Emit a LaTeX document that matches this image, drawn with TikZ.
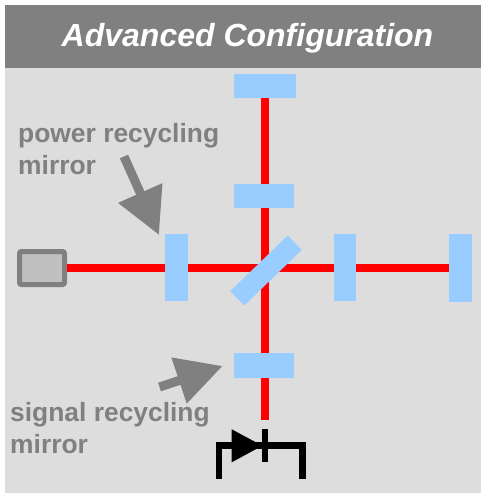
\documentclass[tikz,border=0pt]{standalone}
\usepackage{fontspec}
\setmainfont{Liberation Sans}
\usepackage{xcolor}
\usetikzlibrary{arrows.meta,positioning}
\definecolor{panelgray}{HTML}{DDDDDD}
\definecolor{headgray}{HTML}{808080}
\definecolor{mirrorblue}{HTML}{99CCFF}
\definecolor{lasergray}{HTML}{C0C0C0}
\tikzset{
    mirror/.style={fill=mirrorblue,inner sep=0pt,minimum width=#1},
    beam/.style={red,line width=8.5pt},
    wire/.style={black,line width=6.5pt},
    pointer/.style={headgray,line width=9pt,-{Triangle[length=46pt,width=46pt]}},
    callout/.style={headgray,inner sep=0pt,align=left,anchor=west,font=\bfseries\fontsize{26.4}{32}\selectfont}
}

\begin{document}
\begin{tikzpicture}[x=1pt,y=-1pt]
    \useasboundingbox (0,0) rectangle (481,493);
    \fill[panelgray] (5,68) rectangle (481,493);
    \fill[headgray] (5,5) rectangle (481,68);
    \node[white,inner sep=0pt,font=\bfseries\itshape\fontsize{32}{32}\selectfont] (title) at (247.5,38) {Advanced Configuration};

    \node[draw=headgray,line width=5pt,fill=lasergray,rounded corners=2pt,inner sep=0pt,minimum width=45pt,minimum height=33pt] (laser) at (42,268) {};
    \node[mirror=23pt,minimum height=68pt] (endx) at (460.5,268) {};
    \node[mirror=62pt,minimum height=24pt] (endy) at (265,86) {};
    \coordinate (beamend) at (265,420);

    \draw[beam] (laser) -- (endx);
    \draw[beam] (endy) -- (beamend);

    \node[mirror=60pt,minimum height=24pt] (inputy) at (264,196) {};
    \node[mirror=23pt,minimum height=67pt] (power) at (176.5,267.5) {};
    \node[mirror=22pt,minimum height=67pt] (inputx) at (345,267.5) {};
    \node[mirror=60pt,minimum height=25pt] (signal) at (264,365.5) {};
    \node[mirror=80pt,minimum height=20pt,rotate=44] (splitter) at (266,270.5) {};

    \node[callout] (powerlabel) at (18,149.5) {power recycling\\mirror};
    \node[callout] (signallabel) at (10,428.5) {signal recycling\\mirror};

    \coordinate (powertail) at (124,156.5);
    \coordinate (powertip) at (159,235);
    \coordinate (signaltail) at (159.5,387);
    \coordinate (signaltip) at (222.7,366);
    \draw[pointer] (powertail) -- (powertip);
    \draw[pointer] (signaltail) -- (signaltip);

    \node[fill=black,inner sep=0pt,minimum width=6.5pt,minimum height=33pt] (diode) at (265,445.5) {};
    \fill[black] (231.7,429.3) -- (231.7,462.3) -- (262.3,445.7) -- cycle;
    \coordinate (leadleft) at (219,478.7);
    \coordinate (leadright) at (302.7,478.7);
    \draw[wire] (leadleft) |- (diode.center) -| (leadright);
\end{tikzpicture}
\end{document}
